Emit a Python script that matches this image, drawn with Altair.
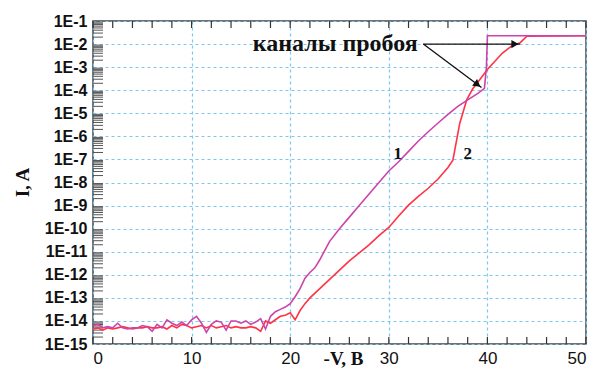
import altair as alt
import pandas as pd
import numpy as np

# Curve 1 (magenta): -V (volts) and log10(I, A)
v1 = [0, 0.5, 1, 1.5, 2, 2.5, 3, 3.5, 4, 4.5, 5, 5.5, 6, 6.5, 7, 7.5, 8, 8.5, 9, 9.5,
      10, 10.5, 11, 11.5, 12, 12.5, 13, 13.5, 14, 14.5, 15, 15.5, 16, 16.5, 17, 17.5, 18, 18.5, 19, 19.5,
      20, 20.5, 21, 21.5, 22, 22.5, 23, 24, 25, 26, 27, 28, 29, 30, 31, 32, 33, 34, 35, 36, 37, 38, 39,
      39.7, 39.9, 40.0, 50]
e1 = [-14.2, -14.15, -14.3, -14.25, -14.3, -14.1, -14.3, -14.35, -14.3, -14.3, -14.2, -14.25, -14.45, -14.15,
      -14.3, -13.95, -14.1, -14.2, -14.05, -14.2, -13.95, -13.8, -14.1, -14.5, -14.15, -14.0, -14.05, -14.4,
      -14.0, -14.0, -14.1, -14.0, -14.15, -14.05, -13.9, -14.35, -13.8, -13.6, -13.5, -13.4,
      -13.25, -12.95, -12.6, -12.15, -11.9, -11.7, -11.35, -10.55, -10.0, -9.5, -9.0, -8.5, -8.0, -7.5,
      -7.1, -6.65, -6.2, -5.8, -5.42, -5.05, -4.7, -4.42, -4.15, -3.92, -3.0, -1.64, -1.64]

# Curve 2 (red)
v2 = [0, 0.5, 1, 1.5, 2, 2.5, 3, 3.5, 4, 4.5, 5, 5.5, 6, 6.5, 7, 7.5, 8, 8.5, 9, 9.5,
      10, 10.5, 11, 11.5, 12, 12.5, 13, 13.5, 14, 14.5, 15, 15.5, 16, 16.5, 17, 17.5, 18, 18.5, 19, 19.5,
      20, 20.5, 21, 21.5, 22, 23, 24, 25, 26, 27, 28, 29, 30, 31, 32, 33, 34, 35, 36, 36.5, 37.2, 37.9,
      38.5, 39.2, 40, 40.6, 41.5, 42.6, 43.3, 44, 50]
e2 = [-14.35, -14.3, -14.4, -14.3, -14.35, -14.3, -14.25, -14.3, -14.35, -14.3, -14.3, -14.25, -14.3, -14.3,
      -14.25, -14.35, -14.2, -14.3, -14.15, -14.2, -14.3, -14.25, -14.2, -14.3, -14.2, -14.3, -14.25, -14.2,
      -14.3, -14.25, -14.3, -14.3, -14.25, -14.3, -14.45, -14.0, -14.1, -13.95, -13.8, -13.75,
      -13.65, -13.95, -13.55, -13.25, -13.0, -12.6, -12.2, -11.8, -11.4, -11.05, -10.7, -10.3, -9.95,
      -9.45, -8.98, -8.6, -8.25, -7.85, -7.35, -7.03, -5.43, -4.42, -3.95, -3.56, -3.1, -2.82, -2.4,
      -2.04, -1.95, -1.66, -1.64]

x_ticks = [0, 10, 20, 30, 40, 50]
y_decades = list(range(-15, 0))
x_minor = list(range(0, 51, 2))

curve_color1 = "#cc44aa"
curve_color2 = "#ff3344"
grid_color = "#7cc7ef"

df1 = pd.DataFrame({"V": v1, "I": [10.0 ** e for e in e1], "i": range(len(v1))})
df2 = pd.DataFrame({"V": v2, "I": [10.0 ** e for e in e2], "i": range(len(v2))})

xscale = alt.Scale(domain=[0, 50], nice=False, zero=False)
yscale = alt.Scale(type="log", domain=[1e-15, 1e-1], nice=False)

xaxis = alt.Axis(values=x_ticks, grid=True, gridColor=grid_color, gridDash=[3, 3], gridWidth=1.2,
                 tickSize=0, domain=False, labelFont="Liberation Sans", labelFontSize=17,
                 labelColor="#111", labelPadding=6, title="-V, B", titleFont="Liberation Serif",
                 titleFontWeight="bold", titleFontSize=19, titleColor="#111",
                 titleX=250, titleY=5, titleBaseline="top", titleAlign="center")
yaxis = alt.Axis(values=[10.0 ** d for d in y_decades], grid=True, gridColor=grid_color, gridDash=[3, 3],
                 gridWidth=1.2, tickSize=0, domain=False, labelFont="Liberation Sans",
                 labelFontWeight="bold", labelFontSize=16, labelColor="#111", labelPadding=6,
                 labelExpr="'1E' + round(log(datum.value)/LN10)",
                 title="I, A", titleFont="Liberation Serif", titleFontWeight="bold", titleFontSize=19,
                 titleColor="#111", titleAngle=270, titleX=-71, titleY=161,
                 titleAlign="center", titleBaseline="middle")

line1 = alt.Chart(df1).mark_line(color=curve_color1, strokeWidth=1.6).encode(
    x=alt.X("V:Q", scale=xscale, axis=xaxis),
    y=alt.Y("I:Q", scale=yscale, axis=yaxis),
    order="i:Q")
line2 = alt.Chart(df2).mark_line(color=curve_color2, strokeWidth=1.6).encode(
    x=alt.X("V:Q", scale=xscale), y=alt.Y("I:Q", scale=yscale), order="i:Q")

# minor ticks on the left side
minor_y = [k * 10.0 ** d for d in range(-15, -1) for k in range(2, 10)]
dfmy = pd.DataFrame({"I": minor_y})
ymin_ticks = alt.Chart(dfmy).mark_rule(color="#555", strokeWidth=1).encode(
    x=alt.value(0), x2=alt.value(10), y=alt.Y("I:Q", scale=yscale))

dfmx = pd.DataFrame({"V": x_minor})
xmin_bot = alt.Chart(dfmx).mark_rule(color="#333", strokeWidth=1.2).encode(
    x=alt.X("V:Q", scale=xscale), y=alt.value(323), y2=alt.value(316))
xmin_top = alt.Chart(dfmx).mark_rule(color="#333", strokeWidth=1.2).encode(
    x=alt.X("V:Q", scale=xscale), y=alt.value(0), y2=alt.value(7))

# annotation
ann_text = pd.DataFrame({"V": [16.2], "I": [1e-2], "t": ["каналы пробоя"]})
text_ann = alt.Chart(ann_text).mark_text(font="Liberation Serif", fontWeight="bold", fontSize=24,
                                         align="left", baseline="middle", color="#111").encode(
    x=alt.X("V:Q", scale=xscale), y=alt.Y("I:Q", scale=yscale), text="t:N")

arrows = pd.DataFrame({"V": [33.5, 33.5], "I": [1e-2, 1e-2], "V2": [43.3, 39.4], "I2": [1e-2, 1.3e-4]})
arrow_lines = alt.Chart(arrows).mark_rule(color="#111", strokeWidth=1.3).encode(
    x=alt.X("V:Q", scale=xscale), y=alt.Y("I:Q", scale=yscale), x2="V2:Q", y2="I2:Q")

heads = pd.DataFrame({"V": [42.8, 39.0], "I": [1e-2, 1.75e-4], "a": [0, 36]})
arrow_heads = alt.Chart(heads).mark_point(shape="triangle-right", filled=True, color="#111",
                                          size=70, opacity=1).encode(
    x=alt.X("V:Q", scale=xscale), y=alt.Y("I:Q", scale=yscale), angle=alt.Angle("a:Q", scale=None))

labels = pd.DataFrame({"V": [30.9, 38.0], "I": [10 ** -6.75, 10 ** -6.75], "t": ["1", "2"]})
num_labels = alt.Chart(labels).mark_text(font="Liberation Serif", fontWeight="bold", fontSize=17,
                                         color="#111").encode(
    x=alt.X("V:Q", scale=xscale), y=alt.Y("I:Q", scale=yscale), text="t:N")

chart = alt.layer(ymin_ticks, xmin_bot, xmin_top, line2, line1, arrow_lines, arrow_heads,
                  text_ann, num_labels).properties(
    width=493, height=323,
    autosize=alt.AutoSizeParams(type="none"),
    padding={"left": 85, "top": 13, "right": 4, "bottom": 26},
    background="white"
).configure_view(stroke="#444", strokeWidth=1.5)

chart.save("out.html", embed_options={"renderer": "svg", "actions": False})
